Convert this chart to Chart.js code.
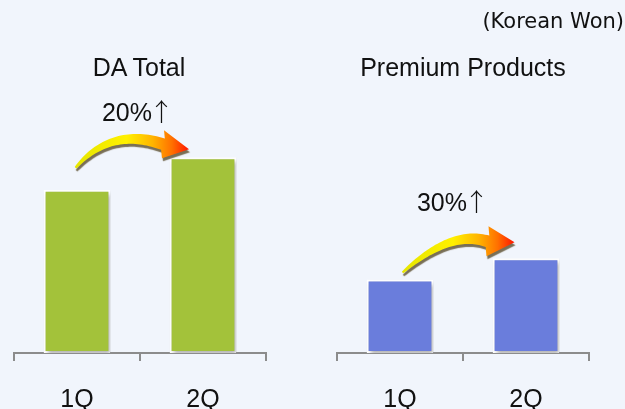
<!DOCTYPE html>
<html>
<head>
<meta charset="utf-8">
<script src="https://cdn.jsdelivr.net/npm/chart.js@4.4.1/dist/chart.umd.min.js"></script>
<style>
    body { margin: 0; background: #f1f5fc; }
    #wrap { position: relative; width: 625px; height: 409px; overflow: hidden; background: #f1f5fc;
            font-family: "Liberation Sans", "DejaVu Sans", sans-serif; color: #111; }
    .box { position: absolute; top: 0; }
    .lbl { position: absolute; width: 260px; text-align: center; font-size: 25px; line-height: 1; white-space: nowrap; }
    .lbl .up { font-family: "Noto Sans CJK KR", "DejaVu Sans", sans-serif; font-weight: 300; margin-left: -3px; }
    #unit { position: absolute; right: 1px; top: 11px; font-family: "DejaVu Sans", sans-serif;
            font-size: 21px; line-height: 1; white-space: nowrap; }
</style>
</head>
<body>
<div id="wrap">
    <div class="box" style="left:0"><canvas id="chartDA" width="312" height="409"></canvas></div>
    <div class="box" style="left:312px"><canvas id="chartPremium" width="313" height="409"></canvas></div>
    <div id="unit"></div>
    <div class="lbl" id="titleDA" style="left:9px; top:55px"></div>
    <div class="lbl" id="titlePremium" style="left:333px; top:55px"></div>
    <div class="lbl" id="growthDA" style="left:8px; top:98px"></div>
    <div class="lbl" id="growthPremium" style="left:323px; top:188px"></div>
</div>
<script>
// Daten
const quarters = ['1Q', '2Q'];
const daTotal = [100, 120];
const premiumProducts = [45, 58];
const panelTitles = ['DA Total', 'Premium Products'];
const growthLabels = ['20%↑', '30%↑'];
const unitLabel = '(Korean Won)';
const yMax = 155;

document.getElementById('unit').textContent = unitLabel;
document.getElementById('titleDA').textContent = panelTitles[0];
document.getElementById('titlePremium').textContent = panelTitles[1];

// Pfeilzeichen in eigener Schrift (schmal und hoch)
function setGrowth(id, text) {
    const el = document.getElementById(id);
    const parts = text.split('↑');
    el.textContent = parts[0];
    if (parts.length > 1) {
        const span = document.createElement('span');
        span.className = 'up';
        span.textContent = '↑';
        el.appendChild(span);
    }
}
setGrowth('growthDA', growthLabels[0]);
setGrowth('growthPremium', growthLabels[1]);

// Schatten unter den Balken
const barShadow = {
    id: 'barShadow',
    beforeDatasetsDraw(chart) {
        const ctx = chart.ctx;
        ctx.save();
        ctx.shadowColor = 'rgba(0,0,0,0.3)';
        ctx.shadowBlur = 4;
        ctx.shadowOffsetX = 2;
        ctx.shadowOffsetY = 3;
    },
    afterDatasetsDraw(chart) {
        chart.ctx.restore();
    }
};

// Geschwungener Pfeil von Balken 1 zu Balken 2
const growthArrow = {
    id: 'growthArrow',
    afterDatasetsDraw(chart, args, opts) {
        const bars = chart.getDatasetMeta(0).data;
        if (bars.length < 2) return;
        const b1 = bars[0], b2 = bars[1];
        const tail = { x: b1.x + opts.tail[0], y: b1.y + opts.tail[1] };
        const ctrl = { x: b1.x + opts.ctrl[0], y: b1.y + opts.ctrl[1] };
        const base = { x: b2.x + opts.base[0], y: b2.y + opts.base[1] };
        const tip = { x: b2.x + opts.tip[0], y: b2.y + opts.tip[1] };
        const half = opts.half;

        const up = [], low = [];
        const N = 40;
        for (let i = 0; i <= N; i++) {
            const t = i / N, mt = 1 - t;
            const x = mt * mt * tail.x + 2 * mt * t * ctrl.x + t * t * base.x;
            const y = mt * mt * tail.y + 2 * mt * t * ctrl.y + t * t * base.y;
            const dx = 2 * mt * (ctrl.x - tail.x) + 2 * t * (base.x - ctrl.x);
            const dy = 2 * mt * (ctrl.y - tail.y) + 2 * t * (base.y - ctrl.y);
            const len = Math.hypot(dx, dy) || 1;
            const nx = -dy / len, ny = dx / len;
            const w = 1 + 5 * Math.pow(t, 0.7);
            up.push([x - nx * w, y - ny * w]);
            low.push([x + nx * w, y + ny * w]);
        }

        const ctx = chart.ctx;
        ctx.save();
        const grad = ctx.createLinearGradient(tail.x, 0, tip.x, 0);
        grad.addColorStop(0, '#e6e600');
        grad.addColorStop(0.45, '#fff000');
        grad.addColorStop(0.68, '#ffb400');
        grad.addColorStop(0.85, '#ff7000');
        grad.addColorStop(1, '#ff1400');
        ctx.fillStyle = grad;
        ctx.shadowColor = 'rgba(80,65,30,0.75)';
        ctx.shadowBlur = 1;
        ctx.shadowOffsetX = 1;
        ctx.shadowOffsetY = 3;
        ctx.beginPath();
        ctx.moveTo(up[0][0], up[0][1]);
        up.forEach(p => ctx.lineTo(p[0], p[1]));
        ctx.lineTo(base.x + 1, base.y - half);
        ctx.lineTo(tip.x, tip.y);
        ctx.lineTo(base.x - 1, base.y + half);
        for (let i = low.length - 1; i >= 0; i--) ctx.lineTo(low[i][0], low[i][1]);
        ctx.closePath();
        ctx.fill();
        ctx.restore();
    }
};

function makeChart(id, values, color, arrow, padLeft, padRight) {
    return new Chart(document.getElementById(id), {
        type: 'bar',
        data: {
            labels: quarters,
            datasets: [{
                data: values,
                backgroundColor: color,
                borderColor: '#ffffff',
                borderWidth: 2,
                borderSkipped: false,
                categoryPercentage: 1,
                barPercentage: 0.53,
            }]
        },
        options: {
            responsive: false,
            animation: false,
            events: [],
            layout: { padding: { left: padLeft, right: padRight, top: 100, bottom: 0 } },
            plugins: {
                legend: { display: false },
                tooltip: { enabled: false },
                growthArrow: arrow,
            },
            scales: {
                x: {
                    grid: {
                        offset: true,
                        drawOnChartArea: false,
                        drawTicks: true,
                        tickLength: 8,
                        color: '#8c8c8c',
                        lineWidth: 2,
                    },
                    border: { display: true, color: '#8c8c8c', width: 2 },
                    ticks: {
                        color: '#111',
                        font: { family: 'Liberation Sans', size: 25 },
                        padding: 24,
                    },
                    afterFit(scale) { scale.height = 56; },
                },
                y: { display: false, min: 0, max: yMax },
            },
        },
        plugins: [barShadow, growthArrow],
    });
}

makeChart('chartDA', daTotal, '#a3c23a',
    { tail: [-1.5, -22], ctrl: [33.5, -63], base: [-40, -13], tip: [-14, -8], half: 14 }, 14, 46);
makeChart('chartPremium', premiumProducts, '#6a7ddc',
    { tail: [2.5, -7], ctrl: [50.5, -50], base: [-38.5, -17], tip: [-11.5, -16], half: 15 }, 25, 36);
</script>
</body>
</html>
